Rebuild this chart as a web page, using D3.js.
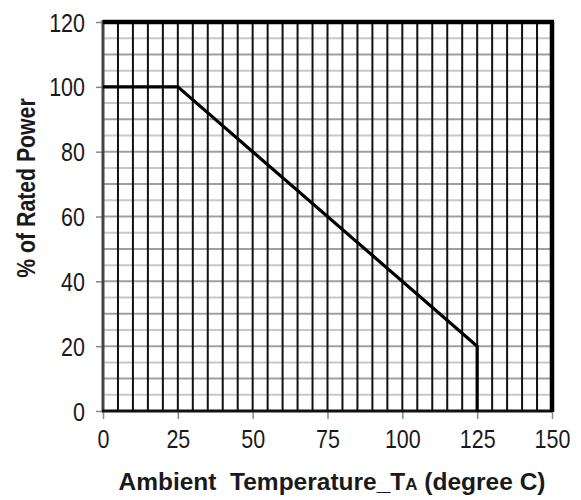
<!DOCTYPE html>
<html><head><meta charset="utf-8">
<script src="https://cdn.jsdelivr.net/npm/d3@7"></script>
<style>
html,body{margin:0;padding:0;background:#fff;}
svg text{font-family:"Liberation Sans",Arial,sans-serif;fill:#1a1a1a;white-space:pre;}
</style></head>
<body><svg id="c" width="581" height="500"></svg>
<script>
const curveX = [0, 25, 125, 125];
const curveY = [100, 100, 20, 0];
const xTicks = [0, 25, 50, 75, 100, 125, 150];
const yTicks = [0, 20, 40, 60, 80, 100, 120];
const xGrid = d3.range(0, 151, 5);
const yGrid = d3.range(0, 121, 5);
const xTitle = "Ambient  Temperature_T";
const xTitleSub = "A";
const xTitleEnd = " (degree C)";
const yTitle = "% of Rated Power";

const svg = d3.select("#c");
const x = d3.scaleLinear().domain([0,150]).range([103,552]);
const y = d3.scaleLinear().domain([0,120]).range([411,22]);

// horizontal grid
svg.append("g").selectAll("line").data(yGrid.filter(d=>d>0&&d<120)).join("line")
  .attr("x1",x(0)).attr("x2",x(150)).attr("y1",d=>y(d)).attr("y2",d=>y(d))
  .attr("stroke",d=>d%10===0?"#a0a0a0":"#c8c8c8").attr("stroke-width",2);
// vertical grid
svg.append("g").selectAll("line").data(xGrid.filter(d=>d>0&&d<150)).join("line")
  .attr("x1",d=>x(d)).attr("x2",d=>x(d)).attr("y1",y(120)).attr("y2",y(0))
  .attr("stroke","#111").attr("stroke-width",2);

// axes
const yAxis = d3.axisLeft(y).tickValues(yTicks).tickSize(7).tickPadding(6).tickFormat(d3.format("d"));
const gy = svg.append("g").attr("transform",`translate(${x(0)},0)`).call(yAxis);
gy.select(".domain").remove();
gy.selectAll(".tick line").attr("stroke","#888").attr("stroke-width",1.5);
gy.selectAll(".tick text").attr("font-size",25).attr("dy","0.36em").attr("x",0)
  .attr("transform","translate(-18,0) scale(0.86,1)");

const xAxis = d3.axisBottom(x).tickValues(xTicks).tickSize(8).tickPadding(10).tickFormat(d3.format("d"));
const gx = svg.append("g").attr("transform",`translate(0,${y(0)})`).call(xAxis);
gx.select(".domain").remove();
gx.selectAll(".tick line").attr("stroke","#888").attr("stroke-width",1.5);
gx.selectAll(".tick text").attr("font-size",25).attr("dy","0.75em").attr("transform","scale(0.86,1)");

// frame
svg.append("line").attr("x1",x(0)).attr("x2",x(0)).attr("y1",y(120)-2).attr("y2",y(0)+1)
  .attr("stroke","#444").attr("stroke-width",3);
svg.append("line").attr("x1",x(0)-1).attr("x2",x(150)).attr("y1",y(0)).attr("y2",y(0))
  .attr("stroke","#111").attr("stroke-width",3);
svg.append("line").attr("x1",x(0)).attr("x2",x(150)+2).attr("y1",y(120)).attr("y2",y(120))
  .attr("stroke","#000").attr("stroke-width",4.5);
svg.append("line").attr("x1",x(150)).attr("x2",x(150)).attr("y1",y(120)).attr("y2",y(0)+1)
  .attr("stroke","#000").attr("stroke-width",4.5);

// data line
const pts = curveX.map((d,i)=>[d,curveY[i]]);
svg.append("path").datum(pts)
  .attr("d",d3.line().x(d=>x(d[0])).y(d=>y(d[1])))
  .attr("fill","none").attr("stroke","#000").attr("stroke-width",3.2).attr("stroke-linejoin","miter");

// titles
const xt = svg.append("text").attr("x",332).attr("y",490).attr("text-anchor","middle")
  .attr("font-size",24.5).attr("font-weight","bold");
xt.append("tspan").text(xTitle);
xt.append("tspan").attr("font-size",17).text(xTitleSub);
xt.append("tspan").text(xTitleEnd);

svg.append("text").attr("transform","translate(35,188) rotate(-90) scale(0.85,1)").attr("text-anchor","middle")
  .attr("font-size",25).attr("font-weight","bold").text(yTitle);
</script></body></html>
